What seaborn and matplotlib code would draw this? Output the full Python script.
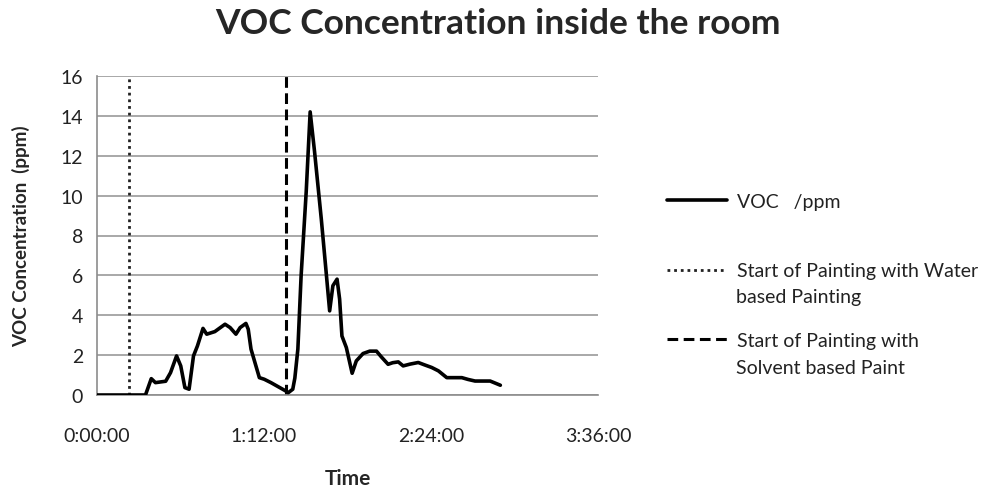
import matplotlib
matplotlib.use("Agg")
import matplotlib.pyplot as plt
import seaborn as sns
import pandas as pd
from matplotlib.lines import Line2D

# Time in minutes since start, VOC in ppm
time_min = [0, 20.9, 23.4, 25.2, 29.6, 31.7, 34.3, 36.1, 37.9, 39.7, 41.6, 43.3, 45.7,
            47.3, 50.8, 55.2, 57.4, 59.9, 61.7, 64.2, 65.2, 66.4, 70.0, 72.1, 75.0,
            80.8, 82.5, 84.4, 85.3, 86.6, 88.0, 90.2, 91.9, 93.8, 96.7, 98.8, 100.3,
            101.7, 103.5, 104.6, 105.6, 107.5, 110.0, 111.8, 114.7, 117.6, 120.5,
            122.6, 125.5, 127.5, 129.9, 132.0, 135.0, 138.5, 141.0, 144.3, 147.2,
            150.8, 157.3, 160.0, 163.0, 169.5, 173.9]
voc_ppm = [0, 0, 0.82, 0.62, 0.69, 1.12, 1.96, 1.46, 0.37, 0.29, 1.96, 2.46, 3.34,
           3.05, 3.18, 3.55, 3.38, 3.05, 3.38, 3.59, 3.30, 2.30, 0.87, 0.79, 0.62,
           0.24, 0.12, 0.29, 0.85, 2.30, 5.98, 10.2, 14.2, 12.2, 8.83, 6.15, 4.22,
           5.48, 5.81, 4.81, 2.96, 2.38, 1.09, 1.71, 2.08, 2.20, 2.20,
           1.91, 1.54, 1.62, 1.66, 1.46, 1.55, 1.63, 1.52, 1.38, 1.21,
           0.87, 0.87, 0.78, 0.70, 0.70, 0.49]

water_start_min = 13.7
solvent_start_min = 81.6

x_ticks_min = [0, 72, 144, 216]
x_tick_labels = ["0:00:00", "1:12:00", "2:24:00", "3:36:00"]
y_ticks = [0, 2, 4, 6, 8, 10, 12, 14, 16]

legend_first_lines = ["VOC   /ppm",
                      "Start of Painting with Water",
                      "Start of Painting with"]
legend_second_lines = ["", "based Painting", "Solvent based Paint"]

sns.set_theme(style="white")
plt.rcParams['font.family'] = ['Lato', 'DejaVu Sans']

df = pd.DataFrame({"time": time_min, "voc": voc_ppm})

W, H = 996, 489
fig = plt.figure(figsize=(W / 100, H / 100), dpi=100)
ax = fig.add_axes([97 / W, 1 - 396 / H, 501 / W, 319 / H])

sns.lineplot(data=df, x="time", y="voc", ax=ax, color="black", linewidth=2.6,
             zorder=3)
ax.axvline(water_start_min, color="#222222", linestyle=(0, (1, 1.4)), linewidth=2.0, zorder=2)
ax.axvline(solvent_start_min, color="black", linestyle=(0, (3.5, 1.8)), linewidth=2.2, zorder=2)

ax.set_xlim(0, 216)
ax.set_ylim(0, 16)
ax.set_xticks(x_ticks_min)
ax.set_xticklabels(x_tick_labels)
ax.set_yticks(y_ticks)
ax.yaxis.grid(True, color="#9a9a9a", linewidth=1.2)
ax.xaxis.grid(False)
for s in ["top", "right"]:
    ax.spines[s].set_visible(False)
for s in ["left", "bottom"]:
    ax.spines[s].set_color("#8c8c8c")
    ax.spines[s].set_linewidth(1.2)
ax.tick_params(axis="both", which="both", direction="out", length=5, width=1,
               color="#8c8c8c", labelsize=14, labelcolor="#222222", pad=5)
ax.tick_params(axis="x", pad=18)

ax.set_xlabel("Time", fontsize=15, fontweight="bold", labelpad=17)
ax.set_ylabel("VOC Concentration  (ppm)", fontsize=13.5, fontweight="bold", labelpad=22)

fig.text(0.5, 1 - 24 / H, "VOC Concentration inside the room", fontsize=25.5,
         fontweight="bold", ha="center", va="center")

handles = [Line2D([0], [0], color="black", linewidth=2.6),
           Line2D([0], [0], color="#222222", linestyle=(0, (1, 1.4)), linewidth=2.0),
           Line2D([0], [0], color="black", linestyle=(0, (3.5, 1.8)), linewidth=2.2)]
leg = fig.legend(handles, legend_first_lines, loc="center left",
                 bbox_to_anchor=(649 / W, 1 - 272 / H),
                 frameon=False, fontsize=14, handlelength=3.1, handletextpad=0.5,
                 labelspacing=2.7, labelcolor="#222222")

second_line_y = [None, 298, 368]
for txt, yy in zip(legend_second_lines, second_line_y):
    if txt:
        fig.text(736 / W, 1 - yy / H, txt, fontsize=14, color="#222222",
                 ha="left", va="center")

fig.savefig("out.png", dpi=100)
